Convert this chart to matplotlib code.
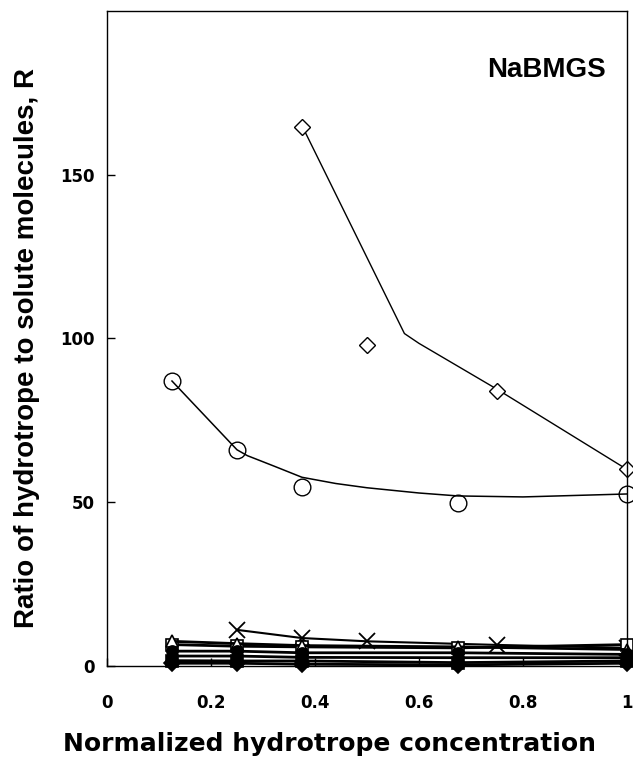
import matplotlib
matplotlib.use("Agg")
import matplotlib.pyplot as plt
import numpy as np

plt.rcParams['font.family'] = ['Liberation Sans', 'DejaVu Sans']

# ---- data ----
diamond_x = [0.375, 0.5, 0.75, 1.0]
diamond_y = [164.5, 98.0, 84.0, 60.0]
diamond_fit_x = [0.375, 0.572, 0.6, 0.75, 1.0]
diamond_fit_y = [165.0, 101.5, 98.5, 84.5, 60.0]

circle_x = [0.125, 0.25, 0.375, 0.675, 1.0]
circle_y = [87.0, 66.0, 54.7, 49.8, 52.5]
circle_fit_x = [0.125, 0.25, 0.27, 0.291, 0.323, 0.375, 0.44, 0.5, 0.6, 0.675, 0.8, 1.0]
circle_fit_y = [87.0, 66.0, 64.2, 62.9, 60.9, 57.6, 55.7, 54.4, 52.8, 51.9, 51.6, 52.5]

cross_x = [0.25, 0.375, 0.5, 0.75, 1.0]
cross_y = [11.0, 8.5, 7.5, 6.4, 5.5]

low_x = [0.125, 0.25, 0.375, 0.675, 1.0]
open_square_y = [6.5, 6.0, 5.8, 5.5, 6.5]
open_triangle_y = [7.5, 6.8, 6.2, 5.8, 5.0]
filled_circle_y = [4.5, 4.5, 4.0, 4.0, 3.5]
filled_triangle_y = [3.0, 3.0, 2.6, 2.5, 2.5]
filled_square_y = [1.6, 1.5, 1.5, 1.0, 1.5]
filled_diamond_y = [0.8, 0.8, 0.5, 0.3, 0.8]

x_ticks = [0, 0.2, 0.4, 0.6, 0.8, 1]
x_ticklabels = ['0', '0.2', '0.4', '0.6', '0.8', '1']
y_ticks = [0, 50, 100, 150]
y_ticklabels = ['0', '50', '100', '150']

# ---- figure ----
fig = plt.figure(figsize=(6.33, 7.61), dpi=100)
ax = fig.add_axes([0.169, 0.125, 0.8215, 0.8605])

ax.plot(diamond_fit_x, diamond_fit_y, color='black', lw=1.0)
ax.plot(diamond_x, diamond_y, linestyle='none', marker='D', ms=8,
        mfc='white', mec='black', mew=1.0, clip_on=False)

ax.plot(circle_fit_x, circle_fit_y, color='black', lw=1.1)
ax.plot(circle_x, circle_y, linestyle='none', marker='o', ms=12,
        mfc='none', mec='black', mew=1.0, clip_on=False)

ax.plot(cross_x, cross_y, color='black', lw=1.5, marker='x', ms=11, mew=1.3,
        clip_on=False)

for ys, mk, fill in [(open_square_y, 's', 'white'),
                     (open_triangle_y, '^', 'white'),
                     (filled_circle_y, 'o', 'black'),
                     (filled_triangle_y, '^', 'black'),
                     (filled_square_y, 's', 'black'),
                     (filled_diamond_y, 'D', 'black')]:
    ax.plot(low_x, ys, color='black', lw=2.0, marker=mk, ms=8,
            mfc=fill, mec='black', mew=1.2, clip_on=False)

ax.set_xlim(0, 1.0)
ax.set_ylim(0, 200)
ax.set_xticks(x_ticks)
ax.set_xticklabels(x_ticklabels)
ax.set_yticks(y_ticks)
ax.set_yticklabels(y_ticklabels)
ax.tick_params(axis='both', direction='in', length=6, width=1.0)
ax.tick_params(axis='x', pad=20)
ax.tick_params(axis='y', pad=9)
for lab in ax.get_xticklabels() + ax.get_yticklabels():
    lab.set_fontweight('bold')
    lab.set_fontfamily('DejaVu Sans')
    lab.set_fontsize(12)
for sp in ax.spines.values():
    sp.set_linewidth(1.0)

ax.set_xlabel('Normalized hydrotrope concentration', fontsize=18,
              fontweight='bold', family='DejaVu Sans')
ax.xaxis.set_label_coords(0.427, -0.101)
ax.set_ylabel('Ratio of hydrotrope to solute molecules, R', fontsize=20,
              fontweight='bold')
ax.yaxis.set_label_coords(-0.128, 0.485)

ax.text(0.96, 0.91, 'NaBMGS', transform=ax.transAxes, ha='right',
        va='center', fontsize=20, fontweight='bold')

fig.savefig('out.png', dpi=100)
